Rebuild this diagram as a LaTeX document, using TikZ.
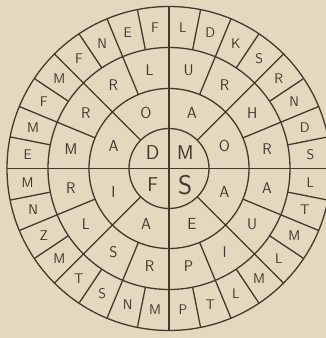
\documentclass[tikz,border=0pt]{standalone}
\usepackage{fontspec}
\definecolor{paper}{RGB}{227,217,190}
\definecolor{ink}{RGB}{70,56,44}
\tikzset{
  ringline/.style={draw=ink, line width=1.3pt},
  lettera/.style={text=ink, font=\sffamily\fontsize{20}{20}\selectfont, inner sep=0pt},
  letterb/.style={text=ink, font=\sffamily\fontsize{16}{16}\selectfont, inner sep=0pt},
  letterc/.style={text=ink, font=\sffamily\fontsize{15.5}{15.5}\selectfont, inner sep=0pt},
  letterd/.style={text=ink, font=\sffamily\fontsize{14}{14}\selectfont, inner sep=0pt}
}
\begin{document}
\begin{tikzpicture}[x=1pt,y=1pt]
\fill[paper] (0,0) rectangle (326,338);
\useasboundingbox (0,0) rectangle (326,338);
\clip (0,0) rectangle (326,338);
\coordinate (O) at (169,169.5);
\begin{scope}[shift={(O)}]
  % circles
  \foreach \r in {40,80,121,162}
    \draw[ringline] (0,0) circle (\r pt);
  % main cross through centre
  \draw[ringline] (180:162pt) -- (0:162pt);
  \draw[ringline] (90:162pt) -- (270:162pt);
  % diagonals from inner circle
  \foreach \a in {45,135,225,315}
    \draw[ringline] (\a:40pt) -- (\a:162pt);
  % 22.5 offsets from ring 2
  \foreach \k in {0,...,7}
    \draw[ringline] ({22.5+45*\k}:80pt) -- ({22.5+45*\k}:162pt);
  % 11.25 offsets from ring 3
  \foreach \k in {0,...,15}
    \draw[ringline] ({11.25+22.5*\k}:121pt) -- ({11.25+22.5*\k}:162pt);
  % ring 1 letters
  \node[lettera] (a0) at (45:23pt) {M};
  \node[lettera] (a1) at (135:23pt) {D};
  \node[lettera] (a2) at (225:23pt) {F};
  \node[lettera, font=\sffamily\fontsize{27}{27}\selectfont] (a3) at (315:23pt) {S};
  % ring 2 letters
  \foreach \l [count=\i from 0] in {O,A,O,A,I,A,E,A}
    \node[letterb] (b\i) at ({22.5+45*\i}:60pt) {\l};
  % ring 3 letters
  \foreach \l [count=\i from 0] in {R,H,R,U,L,R,R,M,R,L,S,R,P,I,U,A}
    \node[letterc] (c\i) at ({11.25+22.5*\i}:100pt) {\l};
  % ring 4 letters
  \foreach \l [count=\i from 0] in {S,D,N,R,S,K,D,L,F,E,N,F,M,F,M,E,M,N,Z,M,T,S,N,M,P,T,L,M,L,M,T,L}
    \node[letterd] (d\i) at ({5.625+11.25*\i}:142pt) {\l};
\end{scope}
\end{tikzpicture}
\end{document}
